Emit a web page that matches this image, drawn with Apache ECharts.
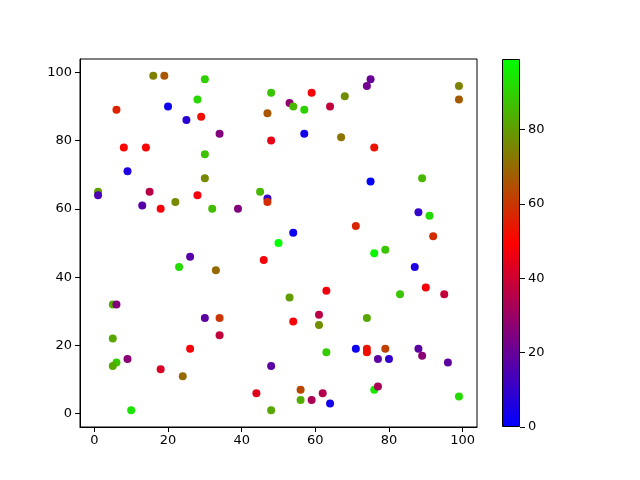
<!DOCTYPE html>
<html><head><meta charset="utf-8">
<script src="https://cdn.jsdelivr.net/npm/echarts@6/dist/echarts.min.js"></script>
<style>html,body{margin:0;padding:0;background:#fff}#c{width:640px;height:480px}</style>
</head><body><div id="c"></div>
<script>
const xs = [16,19,30,48,28,6,20,25,29,47,34,48,8,14,30,9,30,1,1,15,45,47,47,13,18,22,28,32,39,50,
75,74,99,99,59,68,53,54,57,64,57,67,76,75,89,88,91,71,92,54,26,23,46,33,5,6,30,34,34,5,
26,6,5,9,18,24,48,44,48,10,76,79,87,53,63,83,90,95,61,61,54,74,63,71,74,74,79,77,80,88,
89,96,76,77,56,56,59,62,64,99];
const ys = [99,99,98,94,92,89,90,86,87,88,82,80,78,78,76,71,69,65,64,65,65,63,62,61,60,62,64,60,60,50,
98,96,96,92,94,93,91,90,89,90,82,81,78,68,69,59,58,55,52,53,46,43,45,42,32,32,28,28,23,22,
19,15,14,16,13,11,14,6,1,1,47,48,43,34,36,35,37,35,29,26,27,28,18,19,19,18,19,16,16,19,
17,15,7,8,7,4,4,6,3,5];
const cs = [74,66,90,88,91,56,3,8,52,66,25,45,50,50,87,6,76,80,15,36,85,10,58,17,48,76,47,86,25,99,
20,22,75,67,48,77,28,85,90,38,4,72,53,0,85,10,92,57,58,3,17,92,48,70,83,25,18,60,38,82,
48,88,82,27,42,70,18,44,82,94,97,88,6,80,47,88,48,38,36,77,48,82,89,3,54,52,62,18,10,18,
27,18,95,33,63,83,33,35,4,92];
const axisTicks = [0,20,40,60,80,100];
const cbTicks = [0,20,40,60,80];
const cMin = 0, cMax = 99;

const pts = xs.map((x,i)=>[x, ys[i], cs[i]]);
const font = {fontFamily:'DejaVu Sans', fontSize:13, color:'#000'};
const chart = echarts.init(document.getElementById('c'));
chart.setOption({
  animation:false,
  backgroundColor:'#fff',
  grid:[
    {left:80, top:59, width:397, height:368, show:true, borderColor:'#000', borderWidth:1},
    {left:502, top:59, width:18, height:368}
  ],
  xAxis:[
    {gridIndex:0, type:'value', min:-3.9, max:103.9,
     axisLine:{show:true, onZero:false, lineStyle:{color:'#000'}},
     axisTick:{show:true, length:5, customValues:axisTicks, lineStyle:{color:'#000'}},
     axisLabel:Object.assign({margin:7, customValues:axisTicks}, font),
     splitLine:{show:false}},
    {gridIndex:1, type:'category', data:['c'], show:false}
  ],
  yAxis:[
    {gridIndex:0, type:'value', min:-3.9, max:103.9,
     axisLine:{show:true, onZero:false, lineStyle:{color:'#000'}},
     axisTick:{show:true, length:5, customValues:axisTicks, lineStyle:{color:'#000'}},
     axisLabel:Object.assign({margin:8, customValues:axisTicks}, font),
     splitLine:{show:false}},
    {gridIndex:1, type:'value', min:cMin, max:cMax, position:'right',
     axisLine:{show:false},
     axisTick:{show:true, length:5, customValues:cbTicks, lineStyle:{color:'#000'}},
     axisLabel:Object.assign({margin:8, customValues:cbTicks}, font),
     splitLine:{show:false}}
  ],
  visualMap:{type:'continuous', show:false, seriesIndex:0, dimension:2, min:cMin, max:cMax,
    inRange:{color:['#0000ff','#ff0000','#00ff00']}},
  series:[
    {type:'scatter', xAxisIndex:0, yAxisIndex:0, data:pts, symbolSize:8, itemStyle:{opacity:1}},
    {type:'bar', xAxisIndex:1, yAxisIndex:1, data:[cMax], barWidth:'100%',
     itemStyle:{borderColor:'#000', borderWidth:1,
       color:new echarts.graphic.LinearGradient(0,1,0,0,[
         {offset:0,color:'#0000ff'},{offset:0.5,color:'#ff0000'},{offset:1,color:'#00ff00'}])}}
  ]
});
</script></body></html>
